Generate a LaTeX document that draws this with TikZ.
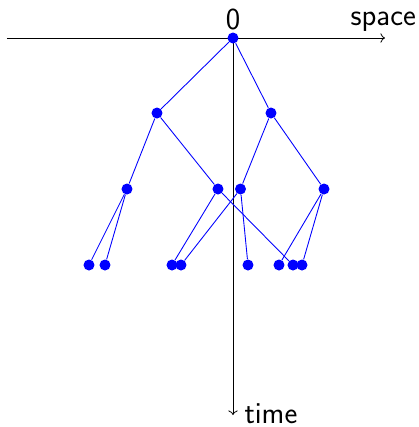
\documentclass[tikz,border=0pt]{standalone}
\usepackage{tikz}
\usetikzlibrary{arrows.meta,positioning}

\begin{document}
\begin{tikzpicture}[
    font=\fontsize{17.4}{21}\selectfont\sffamily,
    dot/.style={circle, fill=blue, inner sep=0pt, minimum size=2.2mm},
    edge/.style={blue, line width=0.5pt},
    axis/.style={->, black, line width=0.45pt}
]
\useasboundingbox (-4.66,-7.78) rectangle (3.72,0.76);

% axes
\coordinate (origin) at (0,0);
\coordinate (west) at (-4.52,0);
\coordinate (east) at (3.04,0);
\coordinate (bottom) at (0,-7.54);
\draw[axis] (west) -- (east) node[above, xshift=-1pt] {space};
\draw[axis] (origin) -- (bottom) node[right, xshift=3pt, yshift=1pt] {time};

% generations
\node[dot, label={[inner sep=1pt]above:0}] (r) at (0,0) {};
\node[dot] (a) at (-1.52,-1.5) {};
\node[dot] (b) at (0.76,-1.5) {};
\node[dot] (aa) at (-2.12,-3.02) {};
\node[dot] (ab) at (-0.30,-3.02) {};
\node[dot] (ba) at (0.15,-3.02) {};
\node[dot] (bb) at (1.82,-3.02) {};
\node[dot] (aaa) at (-2.88,-4.54) {};
\node[dot] (aab) at (-2.56,-4.54) {};
\node[dot] (aba) at (-1.22,-4.54) {};
\node[dot] (baa) at (-1.04,-4.54) {};
\node[dot] (bab) at (0.30,-4.54) {};
\node[dot] (bba) at (0.92,-4.54) {};
\node[dot] (abb) at (1.20,-4.54) {};
\node[dot] (bbb) at (1.38,-4.54) {};

\draw[edge] (r) -- (a);
\draw[edge] (r) -- (b);
\draw[edge] (a) -- (aa);
\draw[edge] (a) -- (ab);
\draw[edge] (b) -- (ba);
\draw[edge] (b) -- (bb);
\draw[edge] (aa) -- (aaa);
\draw[edge] (aa) -- (aab);
\draw[edge] (ab) -- (aba);
\draw[edge] (ab) -- (abb);
\draw[edge] (ba) -- (baa);
\draw[edge] (ba) -- (bab);
\draw[edge] (bb) -- (bba);
\draw[edge] (bb) -- (bbb);
\end{tikzpicture}
\end{document}
